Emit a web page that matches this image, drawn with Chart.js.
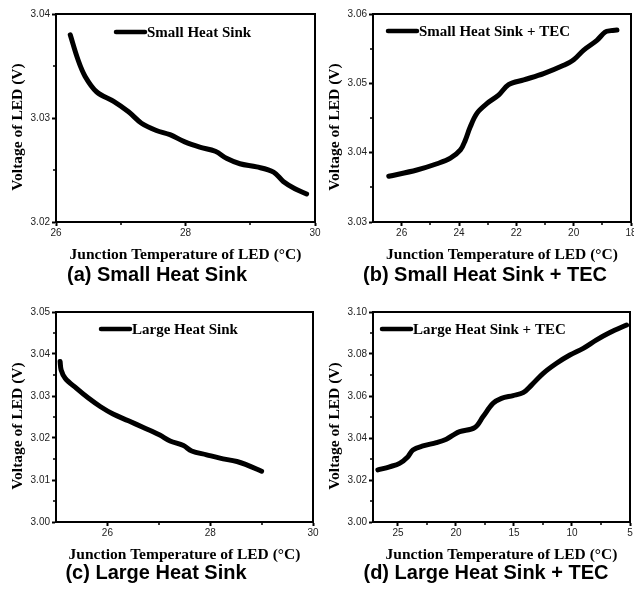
<!DOCTYPE html>
<html>
<head>
<meta charset="utf-8">
<title>LED voltage vs junction temperature</title>
<script src="https://cdn.jsdelivr.net/npm/chart.js@4.4.1/dist/chart.umd.min.js"></script>
<style>
  html, body { margin: 0; padding: 0; background: #fff; }
  #wrap { position: relative; width: 634px; height: 594px; }
  #wrap canvas { position: absolute; }
</style>
</head>
<body>
<div id="wrap">
  <canvas id="chartA" width="330" height="297" style="left:0;top:0"></canvas>
  <canvas id="chartB" width="317" height="297" style="left:317px;top:0"></canvas>
  <canvas id="chartC" width="330" height="297" style="left:0;top:297px"></canvas>
  <canvas id="chartD" width="317" height="297" style="left:317px;top:297px"></canvas>
</div>
<script>
// (a) small heat sink
const smallTemp = [26.22, 26.34, 26.45, 26.63, 26.89, 27.12, 27.32, 27.55, 27.76, 27.99, 28.22, 28.46, 28.64, 28.84, 29.10, 29.36, 29.51, 29.69, 29.87];
const smallVolt = [3.0380, 3.0356, 3.0340, 3.0325, 3.0316, 3.0306, 3.0295, 3.0288, 3.0284, 3.0277, 3.0272, 3.0268, 3.0261, 3.0256, 3.0253, 3.0248, 3.0239, 3.0232, 3.0227];
const smallXTicks = [26, 28, 30];
const smallXMinor = [27, 29];
const smallYTicks = [3.02, 3.03, 3.04];
const smallYMinor = [3.025, 3.035];

// (b) small heat sink + TEC
const smallTecTemp = [26.45, 25.47, 24.77, 24.30, 23.95, 23.78, 23.61, 23.37, 23.02, 22.62, 22.27, 21.74, 21.05, 20.35, 20.00, 19.65, 19.19, 18.90, 18.70, 18.49];
const smallTecVolt = [3.0366, 3.0375, 3.0384, 3.0392, 3.0404, 3.0418, 3.0437, 3.0457, 3.0471, 3.0483, 3.0498, 3.0505, 3.0514, 3.0526, 3.0534, 3.0548, 3.0562, 3.0574, 3.0576, 3.0577];
const smallTecXTicks = [26, 24, 22, 20, 18];
const smallTecXMinor = [25, 23, 21, 19];
const smallTecYTicks = [3.03, 3.04, 3.05, 3.06];
const smallTecYMinor = [3.035, 3.045, 3.055];

// (c) large heat sink
const largeTemp = [25.08, 25.10, 25.18, 25.40, 25.63, 25.86, 26.11, 26.41, 26.70, 27.02, 27.22, 27.48, 27.64, 27.93, 28.19, 28.52, 28.71, 29.00];
const largeVolt = [3.0382, 3.0362, 3.0342, 3.0318, 3.0295, 3.0275, 3.0257, 3.0241, 3.0225, 3.0207, 3.0193, 3.0182, 3.0169, 3.0160, 3.0152, 3.0144, 3.0136, 3.0121];
const largeXTicks = [26, 28, 30];
const largeXMinor = [27, 29];
const largeYTicks = [3.00, 3.01, 3.02, 3.03, 3.04, 3.05];
const largeYMinor = [3.005, 3.015, 3.025, 3.035, 3.045];

// (d) large heat sink + TEC
const largeTecTemp = [26.73, 25.72, 24.86, 24.14, 23.71, 22.84, 21.69, 20.83, 20.25, 19.68, 18.39, 17.66, 16.80, 16.08, 15.07, 14.21, 13.49, 12.48, 11.33, 10.18, 9.03, 7.88, 6.73, 5.29];
const largeTecVolt = [3.0248, 3.0263, 3.0279, 3.0311, 3.0343, 3.0362, 3.0378, 3.0394, 3.0414, 3.0430, 3.0449, 3.0502, 3.0565, 3.0589, 3.0602, 3.0616, 3.0652, 3.0708, 3.0756, 3.0795, 3.0827, 3.0867, 3.0902, 3.0938];
const largeTecXTicks = [25, 20, 15, 10, 5];
const largeTecXMinor = [22.5, 17.5, 12.5, 7.5];
const largeTecYTicks = [3.00, 3.02, 3.04, 3.06, 3.08, 3.10];
const largeTecYMinor = [3.01, 3.03, 3.05, 3.07, 3.09];

const serifBold = '"Liberation Serif", "Times New Roman", serif';
const sansBold = '"Liberation Sans", Arial, sans-serif';

// frame, minor ticks, inline legend, y title and panel caption
const panelDecor = {
    id: 'panelDecor',
    afterDraw(chart, args, opts) {
        const { ctx, chartArea: a, scales } = chart;
        ctx.save();
        ctx.strokeStyle = '#000';
        ctx.fillStyle = '#000';

        ctx.lineWidth = 2;
        ctx.strokeRect(a.left, a.top, a.right - a.left, a.bottom - a.top);

        ctx.lineWidth = 1.5;
        ctx.beginPath();
        opts.xMinor.forEach(v => {
            const x = Math.round(scales.x.getPixelForValue(v));
            ctx.moveTo(x, a.bottom);
            ctx.lineTo(x, a.bottom + 3);
        });
        opts.yMinor.forEach(v => {
            const y = Math.round(scales.y.getPixelForValue(v));
            ctx.moveTo(a.left, y);
            ctx.lineTo(a.left - 3, y);
        });
        ctx.stroke();

        // legend entry
        const ds = chart.data.datasets[0];
        const lx = a.left + opts.legendX;
        const ly = a.top + opts.legendY;
        ctx.lineWidth = 4.5;
        ctx.lineCap = 'round';
        ctx.strokeStyle = ds.borderColor;
        ctx.beginPath();
        ctx.moveTo(lx, ly);
        ctx.lineTo(lx + 29, ly);
        ctx.stroke();
        ctx.font = 'bold 15px ' + serifBold;
        ctx.textAlign = 'left';
        ctx.textBaseline = 'middle';
        ctx.fillText(ds.label, lx + 31, ly + 1);

        // y axis title
        ctx.save();
        ctx.translate(opts.yTitleX, (a.top + a.bottom) / 2 + 9);
        ctx.rotate(-Math.PI / 2);
        ctx.font = 'bold 15.5px ' + serifBold;
        ctx.textAlign = 'center';
        ctx.fillText('Voltage of LED (V)', 0, 0);
        ctx.restore();

        // caption under the panel
        ctx.font = 'bold 20px ' + sansBold;
        ctx.textAlign = 'center';
        ctx.textBaseline = 'alphabetic';
        ctx.fillText(opts.caption, opts.captionX, opts.captionY);
        ctx.restore();
    }
};

function makePanel(id, p) {
    const points = p.temp.map((t, i) => ({ x: t, y: p.volt[i] }));
    return new Chart(document.getElementById(id), {
        type: 'line',
        data: {
            datasets: [{
                label: p.label,
                data: points,
                borderColor: '#000',
                borderWidth: 5,
                borderCapStyle: 'round',
                borderJoinStyle: 'round',
                pointRadius: 0,
                tension: 0.35,
                fill: false
            }]
        },
        options: {
            responsive: false,
            animation: false,
            events: [],
            layout: { padding: p.padding },
            plugins: {
                legend: { display: false },
                tooltip: { enabled: false },
                panelDecor: {
                    xMinor: p.xMinor,
                    yMinor: p.yMinor,
                    legendX: p.legendX,
                    legendY: p.legendY,
                    yTitleX: 18,
                    caption: p.caption,
                    captionX: p.captionX,
                    captionY: p.captionY
                }
            },
            scales: {
                x: {
                    type: 'linear',
                    min: p.xMin,
                    max: p.xMax,
                    reverse: p.reverse,
                    afterBuildTicks: s => { s.ticks = p.xTicks.map(v => ({ value: v })); },
                    afterFit: s => { s.height = p.xHeight; s.paddingLeft = 0; s.paddingRight = 0; },
                    grid: { display: true, drawOnChartArea: false, tickLength: 4, tickWidth: 2, tickColor: '#000' },
                    border: { display: true, color: '#000', width: 2 },
                    ticks: {
                        autoSkip: false,
                        maxRotation: 0,
                        padding: 1,
                        color: '#222',
                        font: { family: sansBold, size: 10 },
                        callback: v => String(v)
                    },
                    title: {
                        display: true,
                        text: 'Junction Temperature of LED (°C)',
                        color: '#000',
                        font: { family: serifBold, size: 15.5, weight: 'bold' },
                        padding: { top: 0, bottom: p.xTitlePad }
                    }
                },
                y: {
                    type: 'linear',
                    min: p.yMin,
                    max: p.yMax,
                    afterBuildTicks: s => { s.ticks = p.yTicks.map(v => ({ value: v })); },
                    afterFit: s => { s.width = p.yWidth; s.paddingTop = 0; s.paddingBottom = 0; },
                    grid: { display: true, drawOnChartArea: false, tickLength: 4, tickWidth: 2, tickColor: '#000' },
                    border: { display: true, color: '#000', width: 2 },
                    ticks: {
                        autoSkip: false,
                        padding: 2,
                        color: '#222',
                        font: { family: sansBold, size: 10 },
                        callback: v => v.toFixed(2)
                    }
                }
            }
        },
        plugins: [panelDecor]
    });
}

makePanel('chartA', {
    label: 'Small Heat Sink', temp: smallTemp, volt: smallVolt,
    xMin: 26, xMax: 30, reverse: false, xTicks: smallXTicks, xMinor: smallXMinor,
    yMin: 3.02, yMax: 3.04, yTicks: smallYTicks, yMinor: smallYMinor,
    padding: { top: 14, right: 15, left: 0, bottom: 0 }, xHeight: 75, yWidth: 56, xTitlePad: 33,
    legendX: 60, legendY: 18,
    caption: '(a) Small Heat Sink', captionX: 157, captionY: 281
});

makePanel('chartB', {
    label: 'Small Heat Sink + TEC', temp: smallTecTemp, volt: smallTecVolt,
    xMin: 18, xMax: 27, reverse: true, xTicks: smallTecXTicks, xMinor: smallTecXMinor,
    yMin: 3.03, yMax: 3.06, yTicks: smallTecYTicks, yMinor: smallTecYMinor,
    padding: { top: 14, right: 3, left: 0, bottom: 0 }, xHeight: 75, yWidth: 56, xTitlePad: 33,
    legendX: 15, legendY: 17,
    caption: '(b) Small Heat Sink + TEC', captionX: 168, captionY: 281
});

makePanel('chartC', {
    label: 'Large Heat Sink', temp: largeTemp, volt: largeVolt,
    xMin: 25, xMax: 30, reverse: false, xTicks: largeXTicks, xMinor: largeXMinor,
    yMin: 3.00, yMax: 3.05, yTicks: largeYTicks, yMinor: largeYMinor,
    padding: { top: 15, right: 17, left: 0, bottom: 0 }, xHeight: 72, yWidth: 56, xTitlePad: 30,
    legendX: 45, legendY: 17,
    caption: '(c) Large Heat Sink', captionX: 156, captionY: 282
});

makePanel('chartD', {
    label: 'Large Heat Sink + TEC', temp: largeTecTemp, volt: largeTecVolt,
    xMin: 5, xMax: 27.15, reverse: true, xTicks: largeTecXTicks, xMinor: largeTecXMinor,
    yMin: 3.00, yMax: 3.10, yTicks: largeTecYTicks, yMinor: largeTecYMinor,
    padding: { top: 15, right: 4, left: 0, bottom: 0 }, xHeight: 72, yWidth: 56, xTitlePad: 30,
    legendX: 9, legendY: 17,
    caption: '(d) Large Heat Sink + TEC', captionX: 169, captionY: 282
});
</script>
</body>
</html>
